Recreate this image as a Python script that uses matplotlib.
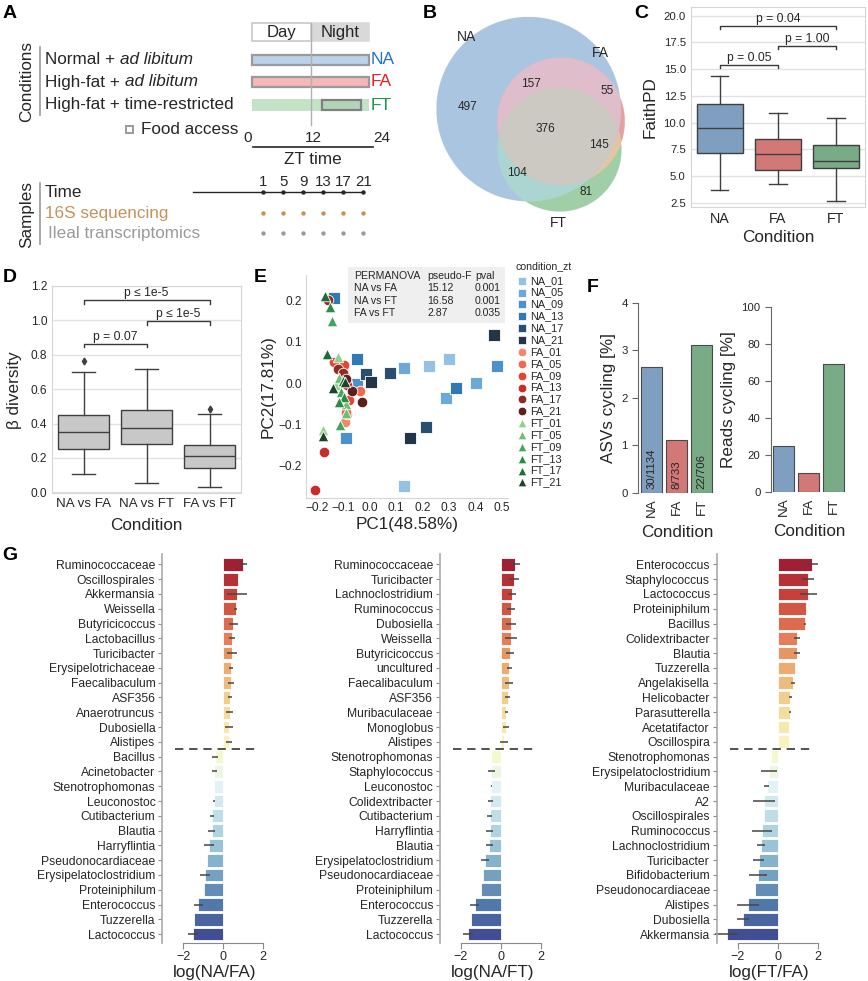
import numpy as np
import matplotlib.pyplot as plt
import matplotlib.patches as mpatches
from matplotlib.colors import to_rgba
import seaborn as sns

plt.rcParams['font.family'] = ['Liberation Sans', 'DejaVu Sans']
plt.rcParams['text.color'] = '#262626'
plt.rcParams['axes.labelcolor'] = '#262626'
plt.rcParams['xtick.color'] = '#262626'
plt.rcParams['ytick.color'] = '#262626'

W, H = 868, 981
fig = plt.figure(figsize=(W / 100, H / 100), dpi=100)


def px_axes(x0, y0, x1, y1):
    # axes from a pixel box (top-left origin)
    return fig.add_axes([x0 / W, 1 - y1 / H, (x1 - x0) / W, (y1 - y0) / H])


# ---------------- data ----------------
conditions = ['NA', 'FA', 'FT']
cond_colors = ['#7f9fc0', '#d27877', '#79ab87']

# A: design
cond_text = ['Normal + ', 'High-fat + ', 'High-fat + time-restricted']
cond_italic = ['ad libitum', 'ad libitum', '']
cond_label_colors = ['#1f73c0', '#ee1c25', '#1a9a48']
bar_fill = ['#bcd2e8', '#f4b8b8', '#c4e2c6']
sample_zt = [1, 5, 9, 13, 17, 21]
trf_window = [14.4, 22.4]
sample_rows = ['Time', '16S sequencing', 'Ileal transcriptomics']
sample_colors = ['#262626', '#c8915a', '#9a9a9a']

# B: venn (region counts: NA, NA&FA, FA, all, FA&FT, NA&FT, FT)
venn_sets = ['NA', 'FA', 'FT']
venn_region = ['497', '157', '55', '376', '145', '104', '81']
# region colour by membership code (NA=1, FA=2, FT=4)
venn_fill = {1: '#abc5df', 2: '#e3a2a3', 4: '#9fcfa8', 3: '#dfbdcc',
             5: '#aad6d0', 6: '#e4c6a6', 7: '#cbc9c1'}

# C: Faith PD
faith_q1 = [7.18, 5.63, 5.78]
faith_med = [9.55, 7.12, 6.40]
faith_q3 = [11.71, 8.46, 7.96]
faith_lo = [3.76, 4.25, 2.66]
faith_hi = [14.33, 10.92, 10.40]
faith_pairs = [(0, 1), (1, 2), (0, 2)]
faith_p = ['p = 0.05', 'p = 1.00', 'p = 0.04']
faith_py = [15.39, 17.16, 19.06]

# D: beta diversity
beta_labels = ['NA vs FA', 'NA vs FT', 'FA vs FT']
beta_q1 = [0.250, 0.279, 0.140]
beta_med = [0.351, 0.376, 0.213]
beta_q3 = [0.448, 0.479, 0.275]
beta_lo = [0.106, 0.052, 0.029]
beta_hi = [0.702, 0.716, 0.455]
beta_fliers = [[0.764], [], [0.486]]
beta_pairs = [(0, 1), (1, 2), (0, 2)]
beta_p = ['p = 0.07', 'p \u2264 1e-5', 'p \u2264 1e-5']
beta_py = [0.863, 0.996, 1.118]

# E: PCoA
pc_groups = ['NA_01', 'NA_05', 'NA_09', 'NA_13', 'NA_17', 'NA_21',
             'FA_01', 'FA_05', 'FA_09', 'FA_13', 'FA_17', 'FA_21',
             'FT_01', 'FT_05', 'FT_09', 'FT_13', 'FT_17', 'FT_21']
pc_colors = ['#95c2e4', '#6ba9d9', '#4b91cc', '#2f79b5', '#2a4e6f', '#243547',
             '#f4866a', '#ee6a50', '#e64332', '#c92c27', '#8f2a25', '#5b1f1e',
             '#90d18b', '#6dc06d', '#40a75c', '#2a8c47', '#226a38', '#1b4327']
pc1 = [[0.224, 0.300, 0.130], [0.130, 0.403, 0.288], [0.482, -0.047, -0.089],
       [-0.135, -0.047, 0.328], [-0.014, 0.079, 0.215], [0.470, 0.007, 0.152],
       [-0.093, -0.093, -0.085], [-0.084, -0.037, -0.089], [-0.133, -0.097, -0.079],
       [-0.206, -0.171, -0.087], [-0.156, -0.118, -0.100], [-0.068, -0.029, -0.090],
       [-0.118, -0.128, -0.175], [-0.115, -0.089, -0.089], [-0.143, -0.108, -0.112],
       [-0.150, -0.097, -0.115], [-0.169, -0.162, -0.100], [-0.137, -0.093, -0.175]]
pc2 = [[0.041, 0.058, -0.250], [0.037, -0.001, -0.037], [0.041, -0.002, -0.133],
       [0.206, 0.058, -0.013], [0.021, 0.024, -0.106], [0.117, 0.002, -0.133],
       [0.017, -0.096, -0.075], [0.001, -0.019, -0.070], [0.050, 0.044, -0.041],
       [-0.261, -0.167, -0.005], [0.202, 0.033, 0.025], [-0.020, -0.046, 0.010],
       [0.063, -0.005, -0.115], [0.011, -0.050, -0.074], [0.150, -0.021, -0.102],
       [0.185, -0.033, -0.046], [0.212, 0.071, 0.005], [-0.013, 0.003, -0.130]]
perm_rows = [['PERMANOVA', 'pseudo-F', 'pval'],
             ['NA vs FA', '15.12', '0.001'],
             ['NA vs FT', '16.58', '0.001'],
             ['FA vs FT', '2.87', '0.035']]

# F: cycling
asv_pct = [2.65, 1.10, 3.12]
asv_frac = ['30/1134', '8/733', '22/706']
reads_pct = [24.8, 10.3, 69.0]

# G: log ratios
g1_names = ['Ruminococcaceae', 'Oscillospirales', 'Akkermansia', 'Weissella', 'Butyricicoccus',
            'Lactobacillus', 'Turicibacter', 'Erysipelotrichaceae', 'Faecalibaculum', 'ASF356',
            'Anaerotruncus', 'Dubosiella', 'Alistipes', 'Bacillus', 'Acinetobacter',
            'Stenotrophomonas', 'Leuconostoc', 'Cutibacterium', 'Blautia', 'Harryflintia',
            'Pseudonocardiaceae', 'Erysipelatoclostridium', 'Proteiniphilum', 'Enterococcus',
            'Tuzzerella', 'Lactococcus']
g1_vals = [0.97, 0.75, 0.70, 0.62, 0.50, 0.45, 0.42, 0.38, 0.38, 0.35, 0.32, 0.30, 0.28,
           -0.42, -0.45, -0.45, -0.47, -0.57, -0.58, -0.72, -0.83, -0.92, -0.97, -1.25,
           -1.48, -1.53]
g1_err = [0.22, 0.0, 0.50, 0.08, 0.22, 0.15, 0.25, 0.12, 0.15, 0.10, 0.17, 0.20, 0.15,
          0.15, 0.12, 0.0, 0.03, 0.12, 0.18, 0.25, 0.0, 0.25, 0.0, 0.22, 0.0, 0.25]
g2_names = ['Ruminococcaceae', 'Turicibacter', 'Lachnoclostridium', 'Ruminococcus', 'Dubosiella',
            'Weissella', 'Butyricicoccus', 'uncultured', 'Faecalibaculum', 'ASF356',
            'Muribaculaceae', 'Monoglobus', 'Alistipes', 'Stenotrophomonas', 'Staphylococcus',
            'Leuconostoc', 'Colidextribacter', 'Cutibacterium', 'Harryflintia', 'Blautia',
            'Erysipelatoclostridium', 'Pseudonocardiaceae', 'Proteiniphilum', 'Enterococcus',
            'Tuzzerella', 'Lactococcus']
g2_vals = [0.70, 0.65, 0.55, 0.50, 0.50, 0.50, 0.47, 0.42, 0.42, 0.33, 0.27, 0.25, 0.17,
           -0.48, -0.48, -0.48, -0.53, -0.57, -0.57, -0.58, -0.82, -0.88, -0.98, -1.32,
           -1.50, -1.65]
g2_err = [0.25, 0.25, 0.20, 0.20, 0.25, 0.30, 0.20, 0.12, 0.20, 0.12, 0.08, 0.15, 0.20,
          0.0, 0.17, 0.02, 0.12, 0.12, 0.17, 0.17, 0.20, 0.0, 0.0, 0.22, 0.0, 0.25]
g3_names = ['Enterococcus', 'Staphylococcus', 'Lactococcus', 'Proteiniphilum', 'Bacillus',
            'Colidextribacter', 'Blautia', 'Tuzzerella', 'Angelakisella', 'Helicobacter',
            'Parasutterella', 'Acetatifactor', 'Oscillospira', 'Stenotrophomonas',
            'Erysipelatoclostridium', 'Muribaculaceae', 'A2', 'Oscillospirales', 'Ruminococcus',
            'Lachnoclostridium', 'Turicibacter', 'Bifidobacterium', 'Pseudonocardiaceae',
            'Alistipes', 'Dubosiella', 'Akkermansia']
g3_vals = [1.70, 1.50, 1.53, 1.42, 1.37, 0.97, 0.95, 0.88, 0.77, 0.63, 0.62, 0.55, 0.55,
           -0.33, -0.45, -0.55, -0.67, -0.70, -0.80, -0.83, -0.95, -1.00, -1.12, -1.50,
           -1.75, -2.55]
g3_err = [0.30, 0.30, 0.43, 0.0, 0.05, 0.15, 0.15, 0.0, 0.10, 0.07, 0.05, 0.0, 0.0,
          0.0, 0.40, 0.12, 0.55, 0.0, 0.50, 0.20, 0.28, 0.45, 0.0, 0.55, 0.30, 0.58]
g_xlabels = ['log(NA/FA)', 'log(NA/FT)', 'log(FT/FA)']

# ---------------- panel letters ----------------
for lab, (x, y) in zip('ABCDEFG', [(10, 14), (430, 13), (641, 13), (10, 277),
                                   (260, 277), (593, 287), (10, 555)]):
    fig.text(x / W, 1 - y / H, lab, fontsize=14, fontweight='bold',
             ha='center', va='center', color='black')

# ---------------- B ----------------
axB = px_axes(380, 0, 630, 240)
axB.axis('off')
circles = [(528.5, 109, 92.5), (561, 121.3, 64), (559.5, 149.5, 62.2)]
yy, xx = np.mgrid[0:240:0.25, 380:630:0.25]
code = np.zeros(xx.shape, dtype=int)
for bit, (cx, cy, r) in zip([1, 2, 4], circles):
    code += bit * (((xx - cx) ** 2 + (yy - cy) ** 2) <= r ** 2)
rgba = np.ones(xx.shape + (4,))
rgba[..., 3] = 0
for k, col in venn_fill.items():
    rgba[code == k] = to_rgba(col)
axB.imshow(rgba, extent=(380, 630, 240, 0), interpolation='bilinear', aspect='auto')
axB.set_xlim(380, 630)
axB.set_ylim(240, 0)
for txt, (x, y) in zip(venn_region, [(468, 107), (530.7, 84), (606.7, 90.7), (545.7, 129),
                                      (599, 145), (516.7, 173.3), (585.7, 191.7)]):
    axB.text(x, y, txt, fontsize=8.5, ha='center', va='center')
for txt, (x, y) in zip(venn_sets, [(466, 37), (600.7, 53), (558, 223)]):
    axB.text(x, y, txt, fontsize=10, ha='center', va='center')

# ---------------- A ----------------
axA = px_axes(0, 0, 400, 245)
axA.set_xlim(0, 400)
axA.set_ylim(245, 0)
axA.axis('off')
zt0, zt_px = 251.7, 4.9          # top time scale (px per hour)
sx0, sx_px = 258.3, 5.0          # sample time scale


def zx(t):
    return zt0 + zt_px * t


axA.add_patch(mpatches.Rectangle((zx(0), 22.7), zx(12) - zx(0), 18, fc='white', ec='#c8c8c8', lw=1.2))
axA.add_patch(mpatches.Rectangle((zx(12), 22.7), zx(24) - zx(12), 18, fc='#d9d9d9', ec='#d9d9d9', lw=1.2))
axA.text((zx(0) + zx(12)) / 2, 32, 'Day', fontsize=12, ha='center', va='center')
axA.text((zx(12) + zx(24)) / 2, 32, 'Night', fontsize=12, ha='center', va='center')
axA.plot([zx(12), zx(12)], [22.7, 125], color='#b0b0b0', lw=1)
row_y = [60, 82, 105]
for i in range(3):
    y = row_y[i]
    if i < 2:
        axA.add_patch(mpatches.Rectangle((zx(0), y - 5.3), zx(24) - zx(0), 10.6,
                                         fc=bar_fill[i], ec='#9a9a9a', lw=1.6))
    else:
        axA.add_patch(mpatches.Rectangle((zx(0), y - 5.7), zx(24) - zx(0), 11.4,
                                         fc=bar_fill[i], ec='none'))
        axA.add_patch(mpatches.Rectangle((zx(trf_window[0]), y - 5.3),
                                         zx(trf_window[1]) - zx(trf_window[0]), 10.6,
                                         fc='#b3d5b7', ec='#808080', lw=1.6))
    axA.text(371, y, conditions[i], color=cond_label_colors[i], fontsize=12.5, va='center')
    t = axA.text(45, y, cond_text[i], fontsize=12.3, va='center')
    if cond_italic[i]:
        axA.annotate(cond_italic[i], xycoords=t, xy=(1, 0.5), va='center', fontsize=12.3,
                     style='italic')
axA.text(26.7, 82, 'Conditions', rotation=90, fontsize=12.3, ha='center', va='center')
axA.plot([40, 40], [46.7, 115], color='#9a9a9a', lw=1.2)
axA.add_patch(mpatches.Rectangle((126, 126), 7.3, 7.3, fc='white', ec='#9a9a9a', lw=1.4))
axA.text(140.7, 129.5, 'Food access', fontsize=12.3, va='center')
for t in [0, 12, 24]:
    axA.text(zx(t) + (-4.5 if t == 0 else (3 if t == 12 else 12)), 138.5, str(t),
             fontsize=11, ha='center', va='center')
axA.plot([253, 373], [146.7, 146.7], color='#262626', lw=1.2)
axA.text(313.3, 159.3, 'ZT time', fontsize=12.3, ha='center', va='center')
for t in sample_zt:
    axA.text(sx0 + sx_px * t, 181.7, str(t), fontsize=10.8, ha='center', va='center')
axA.plot([192.7, sx0 + sx_px * sample_zt[-1]], [192.3, 192.3], color='#262626', lw=1)
srow_y = [192.3, 213.3, 233.3]
for i in range(3):
    axA.scatter([sx0 + sx_px * t for t in sample_zt], [srow_y[i]] * len(sample_zt),
                s=10, color=sample_colors[i], zorder=3, lw=0)
    axA.text(45 + (3 if i == 2 else 0), srow_y[i], sample_rows[i], fontsize=12.3,
             color=sample_colors[i], va='center')
axA.text(26.7, 215, 'Samples', rotation=90, fontsize=12.3, ha='center', va='center')
axA.plot([40, 40], [183, 245], color='#9a9a9a', lw=1.2)


# ---------------- helpers for boxes ----------------
def draw_boxes(ax, q1, med, q3, lo, hi, fliers, colors, capw):
    stats = []
    for i in range(len(q1)):
        stats.append(dict(q1=q1[i], med=med[i], q3=q3[i], whislo=lo[i], whishi=hi[i],
                          fliers=fliers[i] if fliers else []))
    bp = ax.bxp(stats, positions=range(len(q1)), widths=0.8, patch_artist=True,
                capwidths=capw,
                boxprops=dict(edgecolor='#3f3f3f', lw=1),
                medianprops=dict(color='#3f3f3f', lw=1),
                whiskerprops=dict(color='#3f3f3f', lw=1),
                capprops=dict(color='#3f3f3f', lw=1),
                flierprops=dict(marker='d', markersize=3.5, markerfacecolor='#3f3f3f',
                                markeredgecolor='#3f3f3f'))
    for p, c in zip(bp['boxes'], colors):
        p.set_facecolor(c)


def brackets(ax, pairs, ys, texts, leg, fs):
    for (a, b), y, t in zip(pairs, ys, texts):
        ax.plot([a, a, b, b], [y - leg, y, y, y - leg], color='#3a3a3a', lw=1)
        ax.text((a + b) / 2, y + leg * 0.25, t, ha='center', va='bottom', fontsize=fs)


def grid_style(ax):
    ax.set_axisbelow(True)
    ax.grid(axis='y', color='#e2e2e2', lw=1)
    for s in ax.spines.values():
        s.set_color('#d6d6d6')
    ax.tick_params(length=0)


# ---------------- C ----------------
axC = px_axes(690.7, 7, 865, 207)
draw_boxes(axC, faith_q1, faith_med, faith_q3, faith_lo, faith_hi, None, cond_colors, 0.3)
brackets(axC, faith_pairs, faith_py, faith_p, 0.3, 8.7)
axC.set_xlim(-0.5, 2.5)
axC.set_ylim(2.13, 20.8)
axC.set_yticks([2.5, 5.0, 7.5, 10.0, 12.5, 15.0, 17.5, 20.0])
axC.set_xticks(range(3))
axC.set_xticklabels(conditions, fontsize=10.3)
axC.tick_params(axis='y', labelsize=8.2)
axC.set_xlabel('Condition', fontsize=12.3, labelpad=3)
axC.set_ylabel('FaithPD', fontsize=12.3, labelpad=4)
grid_style(axC)

# ---------------- D ----------------
axD = px_axes(52, 286, 241, 493.3)
draw_boxes(axD, beta_q1, beta_med, beta_q3, beta_lo, beta_hi, beta_fliers,
           ['#c8c8c8'] * 3, 0.36)
brackets(axD, beta_pairs, beta_py, beta_p, 0.02, 8.7)
axD.set_xlim(-0.5, 2.5)
axD.set_ylim(-0.006, 1.2)
axD.set_yticks([0.0, 0.2, 0.4, 0.6, 0.8, 1.0, 1.2])
axD.set_xticks(range(3))
axD.set_xticklabels(beta_labels, fontsize=9.6)
axD.tick_params(axis='y', labelsize=8.6)
axD.set_xlabel('Condition', fontsize=12.3, labelpad=6)
axD.set_ylabel('\u03b2 diversity', fontsize=12.3, labelpad=6)
grid_style(axD)

# ---------------- E ----------------
axE = px_axes(306, 275, 508, 498)
markers = {'NA': 's', 'FA': 'o', 'FT': '^'}
for g, col, xs, ys in zip(pc_groups, pc_colors, pc1, pc2):
    m = markers[g[:2]]
    axE.scatter(xs, ys, marker=m, s=66 if m == 's' else 58, color=col,
                edgecolor='white', lw=0.6, zorder=3)
axE.set_xlim(-0.24, 0.523)
axE.set_ylim(-0.28, 0.263)
axE.set_xticks([-0.2, -0.1, 0.0, 0.1, 0.2, 0.3, 0.4, 0.5])
axE.set_yticks([-0.2, -0.1, 0.0, 0.1, 0.2])
axE.tick_params(length=0, labelsize=8.6, pad=3)
for s in ['top', 'right']:
    axE.spines[s].set_visible(False)
for s in ['left', 'bottom']:
    axE.spines[s].set_color('#d6d6d6')
axE.set_xlabel('PC1(48.58%)', fontsize=12.3, labelpad=2)
axE.set_ylabel('PC2(17.81%)', fontsize=12.3, labelpad=2)

# PERMANOVA table
fig.patches.append(mpatches.Rectangle((348 / W, 1 - 323 / H), 157 / W, 56 / H,
                                      transform=fig.transFigure, fc='#efefef', ec='none', zorder=4))
col_x = [354, 427, 475]
for r, row in enumerate(perm_rows):
    for c, cell in enumerate(row):
        fig.text(col_x[c] / W, 1 - (276 + 12.3 * r) / H, cell, fontsize=7.6,
                 va='center', ha='left', zorder=5)

# legend
axL = px_axes(510, 258, 575, 495)
axL.set_xlim(510, 575)
axL.set_ylim(495, 258)
axL.axis('off')
axL.text(516, 266, 'condition_zt', fontsize=7.6, va='center')
for i, (g, col) in enumerate(zip(pc_groups, pc_colors)):
    y = 280.7 + 11.87 * i
    axL.scatter([522], [y], marker=markers[g[:2]], s=38, color=col, edgecolor='white', lw=0.5)
    axL.text(530, y, g, fontsize=7.8, va='center')


# ---------------- F ----------------
def cyc_axes(box, vals, xl, ylim, yticks, ylabel):
    ax = px_axes(*box)
    ax.bar(range(3), vals, width=0.84, color=cond_colors, edgecolor='#4a4a4a', lw=0.8)
    ax.set_xlim(*xl)
    ax.set_ylim(*ylim)
    ax.set_yticks(yticks)
    ax.set_xticks(range(3))
    ax.set_xticklabels(conditions, rotation=90, fontsize=9.6)
    for s in ['top', 'right', 'bottom']:
        ax.spines[s].set_visible(False)
    ax.spines['left'].set_color('#666666')
    ax.tick_params(axis='y', direction='out', length=4, color='#666666', labelsize=8.2)
    ax.tick_params(axis='x', length=0, pad=4)
    ax.set_xlabel('Condition', fontsize=12.3, labelpad=6)
    ax.set_ylabel(ylabel, fontsize=12.3, labelpad=4)
    return ax


axF1 = cyc_axes((638.3, 302.7, 716, 492.7), asv_pct, (-0.54, 2.57), (0, 4), range(5),
                'ASVs cycling [%]')
for i, t in enumerate(asv_frac):
    axF1.text(i, 0.08, t, rotation=90, ha='center', va='bottom', fontsize=8.2)
axF2 = cyc_axes((771, 306.7, 848, 491.7), reads_pct, (-0.5, 2.58), (0, 100),
                range(0, 101, 20), 'Reads cycling [%]')

# ---------------- G ----------------
cmap = plt.get_cmap('RdYlBu')
g_cols = [sns.desaturate(cmap(v), 0.8) for v in np.linspace(0.03, 0.97, 26)]
g_left = [162.3, 440, 716.7]
for k, (names, vals, errs) in enumerate([(g1_names, g1_vals, g1_err),
                                         (g2_names, g2_vals, g2_err),
                                         (g3_names, g3_vals, g3_err)]):
    ax = px_axes(g_left[k], 554, g_left[k] + 105, 943)
    pos = np.arange(len(names))
    ax.barh(pos, vals, height=0.86, color=g_cols, edgecolor='white', lw=0.6)
    ax.errorbar(vals, pos, xerr=errs, fmt='none', ecolor='#454545', elinewidth=1.1,
                capsize=0, clip_on=False)
    ax.plot([-2.4, 1.85], [12.5, 12.5], color='#333333', lw=1.2, ls=(0, (5, 3.5)),
            clip_on=False)
    ax.set_xlim(-3.05, 2.2)
    ax.set_ylim(25.6, -0.7)
    ax.set_yticks(pos)
    ax.set_yticklabels(names, fontsize=8.7)
    ax.set_xticks([-2, 0, 2])
    ax.tick_params(axis='x', labelsize=9, length=4, color='#8a8a8a', pad=2)
    ax.tick_params(axis='y', length=3, color='#8a8a8a', pad=2)
    for s in ['top', 'right']:
        ax.spines[s].set_visible(False)
    ax.spines['left'].set_color('#aaaaaa')
    ax.spines['left'].set_linewidth(1.2)
    ax.spines['bottom'].set_color('#8a8a8a')
    ax.spines['bottom'].set_bounds(-2, 2)
    ax.set_xlabel(g_xlabels[k], fontsize=12.3, labelpad=1)

fig.savefig('out.png', dpi=100)
